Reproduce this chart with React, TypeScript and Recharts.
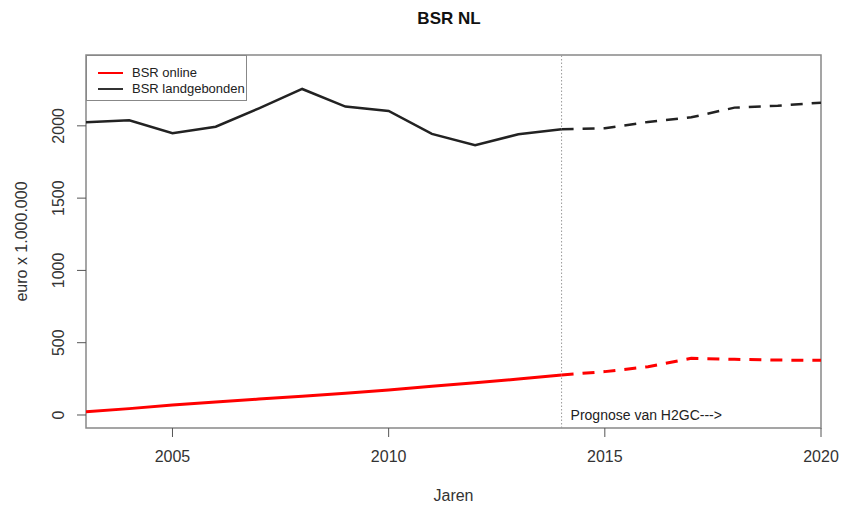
import { LineChart, Line, XAxis, YAxis, ReferenceLine, ReferenceArea, Legend } from 'recharts';

const FONT = '"Liberation Sans", Arial, sans-serif';

const years = [2003, 2004, 2005, 2006, 2007, 2008, 2009, 2010, 2011, 2012, 2013, 2014, 2015, 2016, 2017, 2018, 2019, 2020];
// measured 2003-2014, forecast 2014-2020
const onlineActual = [23, 44, 69, 90, 110, 130, 151, 173, 198, 223, 249, 277];
const onlineForecast = [277, 300, 334, 392, 385, 380, 378];
const landActual = [2025, 2038, 1949, 1994, 2121, 2255, 2133, 2103, 1944, 1866, 1942, 1976];
const landForecast = [1976, 1983, 2027, 2059, 2126, 2139, 2160];
const forecastStart = 2014;

const xTicks = [2005, 2010, 2015, 2020];
const yTicks = [0, 500, 1000, 1500, 2000];

const data = years.map((year, i) => {
  const f = year - forecastStart;
  return {
    year,
    online: i < onlineActual.length ? onlineActual[i] : null,
    onlineF: f >= 0 ? onlineForecast[f] : null,
    land: i < landActual.length ? landActual[i] : null,
    landF: f >= 0 ? landForecast[f] : null,
  };
});

const YTick = ({ x, y, payload }: any) => (
  <text x={x - 13} y={y} transform={`rotate(-90, ${x - 13}, ${y})`} textAnchor="middle"
    fontSize={16} fill="#333" fontFamily={FONT}>
    {payload.value}
  </text>
);

const LegendBox = () => (
  <div style={{ width: 161, height: 46, border: '1px solid #888', boxSizing: 'border-box', background: '#fff', position: 'relative', fontFamily: FONT, fontSize: 13, color: '#222' }}>
    {[['BSR online', '#ff0000', 17], ['BSR landgebonden', '#333', 33]].map(([name, color, top]) => (
      <div key={name as string} style={{ position: 'absolute', left: 0, top: (top as number) - 8, height: 16, display: 'flex', alignItems: 'center' }}>
        <span style={{ display: 'inline-block', marginLeft: 11, width: 25, height: 2.5, background: color as string }} />
        <span style={{ marginLeft: 9, lineHeight: '16px' }}>{name}</span>
      </div>
    ))}
  </div>
);

export default function App() {
  return (
    <div style={{ position: 'absolute', left: 0, top: 0, width: 852, height: 505, background: '#fff', fontFamily: FONT }}>
      <div style={{ position: 'absolute', left: 0, width: 898, top: 9, textAlign: 'center', fontWeight: 'bold', fontSize: 17, color: '#111' }}>
        BSR NL
      </div>
      <LineChart width={852} height={505} data={data} margin={{ top: 55, right: 31, left: 0, bottom: 0 }}>
        <XAxis
          type="number"
          dataKey="year"
          domain={[2003, 2020]}
          ticks={xTicks}
          allowDataOverflow
          height={77}
          tickSize={9}
          tickMargin={14}
          axisLine={false}
          tickLine={{ stroke: '#555' }}
          tick={{ fontSize: 16, fill: '#333', fontFamily: FONT }}
          label={{
            content: ({ viewBox }: any) => (
              <text x={viewBox.x + viewBox.width / 2} y={viewBox.y + 73} textAnchor="middle" fontSize={16} fill="#333" fontFamily={FONT}>
                Jaren
              </text>
            ),
          }}
        />
        <YAxis
          type="number"
          domain={[-90, 2490]}
          ticks={yTicks}
          allowDataOverflow
          width={86}
          tickSize={9}
          tickMargin={0}
          axisLine={false}
          tickLine={{ stroke: '#555' }}
          tick={<YTick />}
          label={{
            content: ({ viewBox }: any) => {
              const cx = viewBox.x + 27;
              const cy = viewBox.y + viewBox.height / 2;
              return (
                <text x={cx} y={cy} transform={`rotate(-90, ${cx}, ${cy})`} textAnchor="middle" fontSize={16} fill="#333" fontFamily={FONT}>
                  euro x 1.000.000
                </text>
              );
            },
          }}
        />
        <ReferenceArea x1={2003} x2={2020} y1={-90} y2={2490} fill="none" stroke="#888" strokeWidth={1.5} ifOverflow="visible" />
        <ReferenceLine
          x={forecastStart}
          stroke="#999"
          strokeDasharray="1.5 2"
          label={{
            content: ({ viewBox }: any) => (
              <text x={viewBox.x + 9} y={viewBox.y + viewBox.height - 8.5} fontSize={14} fill="#222" fontFamily={FONT}>
                Prognose van H2GC---&gt;
              </text>
            ),
          }}
        />
        <Line type="linear" dataKey="online" stroke="#ff0000" strokeWidth={3} dot={false} isAnimationActive={false} connectNulls={false} />
        <Line type="linear" dataKey="onlineF" stroke="#ff0000" strokeWidth={3} strokeDasharray="12 9" dot={false} isAnimationActive={false} />
        <Line type="linear" dataKey="land" stroke="#222" strokeWidth={2.5} dot={false} isAnimationActive={false} />
        <Line type="linear" dataKey="landF" stroke="#222" strokeWidth={2.5} strokeDasharray="12 9" dot={false} isAnimationActive={false} />
        <Legend
          layout="vertical"
          align="center"
          verticalAlign="middle"
          content={<LegendBox />}
          wrapperStyle={{ left: 86, top: 55, width: 161, height: 46 }}
        />
      </LineChart>
    </div>
  );
}
